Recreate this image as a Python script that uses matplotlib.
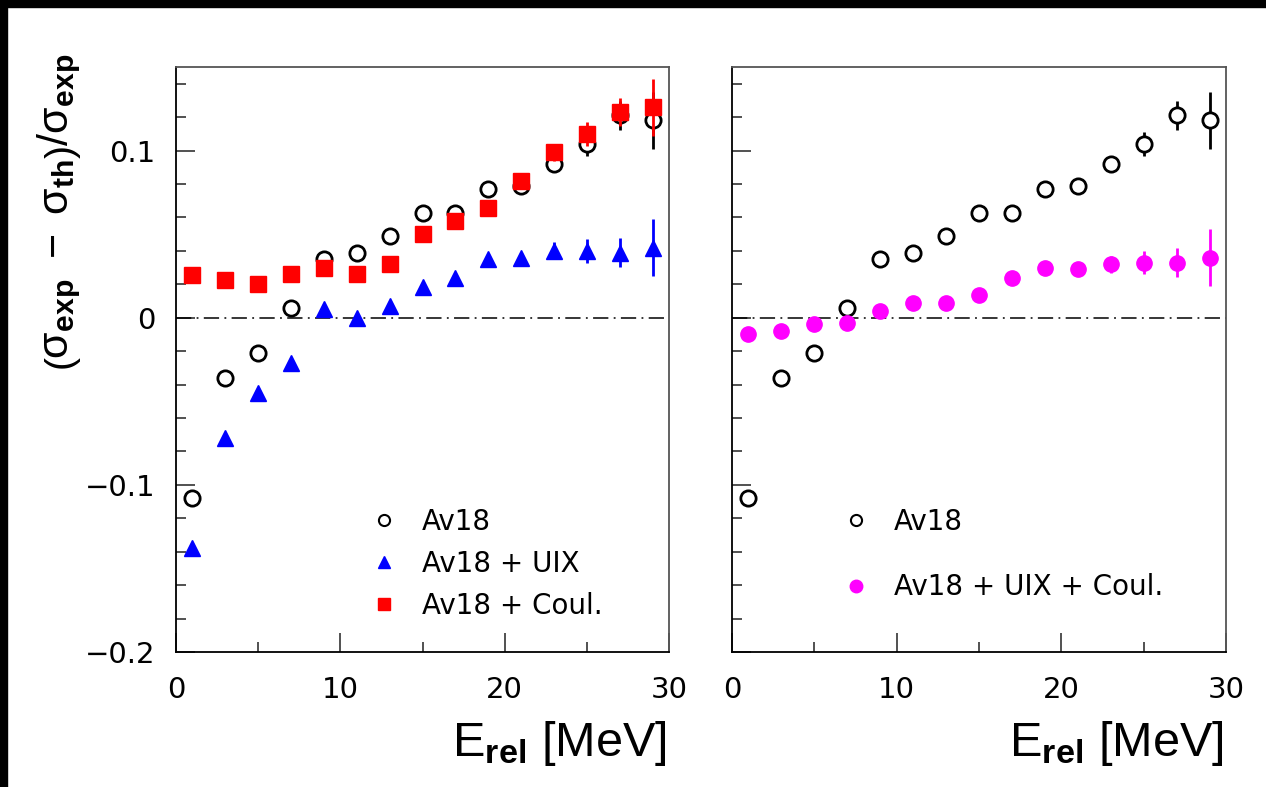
import matplotlib
matplotlib.use('Agg')
import matplotlib.pyplot as plt
from matplotlib.lines import Line2D
from matplotlib.patches import Rectangle
from matplotlib.ticker import MultipleLocator

plt.rcParams['font.family'] = ['DejaVu Sans']
plt.rcParams['mathtext.fontset'] = 'custom'
plt.rcParams['mathtext.rm'] = 'Liberation Sans'
plt.rcParams['mathtext.bf'] = 'Liberation Sans:bold'
plt.rcParams['mathtext.it'] = 'Liberation Sans'

# relative energy bins [MeV]
e_rel = [1, 3, 5, 7, 9, 11, 13, 15, 17, 19, 21, 23, 25, 27, 29]

# (sigma_exp - sigma_th) / sigma_exp for each model
av18 = [-0.108, -0.036, -0.021, 0.006, 0.035, 0.039, 0.049, 0.0625,
        0.0625, 0.077, 0.079, 0.092, 0.104, 0.121, 0.118]
av18_uix = [-0.138, -0.072, -0.045, -0.027, 0.005, 0.0, 0.007, 0.0185,
            0.024, 0.035, 0.0355, 0.040, 0.040, 0.039, 0.042]
av18_coul = [0.0255, 0.0225, 0.020, 0.026, 0.030, 0.026, 0.032, 0.050,
             0.058, 0.0655, 0.082, 0.099, 0.110, 0.123, 0.126]
av18_uix_coul = [-0.010, -0.008, -0.0035, -0.003, 0.004, 0.009, 0.009,
                 0.0135, 0.024, 0.030, 0.029, 0.032, 0.033, 0.033, 0.036]

# experimental uncertainty
err = [0.002, 0.002, 0.002, 0.002, 0.002, 0.002, 0.002, 0.003, 0.003,
       0.003, 0.004, 0.005, 0.007, 0.0085, 0.017]

fig = plt.figure(figsize=(12.66, 7.87), dpi=100)
W, H = 1266.0, 787.0
ax1 = fig.add_axes([176 / W, 1 - 652 / H, 493 / W, 585 / H])
ax2 = fig.add_axes([732 / W, 1 - 652 / H, 494 / W, 585 / H])

# black frame strips on top and left edge
fig.add_artist(Rectangle((0, 1 - 7 / H), 1, 7 / H, transform=fig.transFigure,
                         color='black', zorder=10))
fig.add_artist(Rectangle((0, 0), 7 / W, 1, transform=fig.transFigure,
                         color='black', zorder=10))

ms = 11


def open_circles(ax):
    ax.errorbar(e_rel, av18, yerr=err, fmt='o', color='black', ms=ms,
                mfc='white', mec='black', mew=2, elinewidth=2, capsize=0,
                zorder=3)


open_circles(ax1)
ax1.errorbar(e_rel, av18_uix, yerr=err, fmt='^', color='blue', ms=ms + 1,
             elinewidth=2, capsize=0, zorder=4)
ax1.errorbar(e_rel, av18_coul, yerr=err, fmt='s', color='red', ms=ms,
             elinewidth=2, capsize=0, zorder=5)

open_circles(ax2)
ax2.errorbar(e_rel, av18_uix_coul, yerr=err, fmt='o', color='magenta',
             ms=ms, elinewidth=2, capsize=0, zorder=4)

for ax in (ax1, ax2):
    ax.set_xlim(0, 30)
    ax.set_ylim(-0.2, 0.15)
    ax.axhline(0, color='black', lw=1.1, ls=(0, (10, 3.5, 1.2, 3.5)), zorder=2)
    ax.xaxis.set_major_locator(MultipleLocator(10))
    ax.xaxis.set_minor_locator(MultipleLocator(5))
    ax.yaxis.set_major_locator(MultipleLocator(0.1))
    ax.yaxis.set_minor_locator(MultipleLocator(0.02))
    ax.tick_params(which='both', direction='in', top=False, right=False,
                   width=1.2, colors='#333333', labelcolor='black')
    ax.tick_params(which='major', length=13.5, labelsize=21)
    ax.tick_params(axis='x', which='major', pad=17)
    ax.tick_params(axis='y', which='major', pad=15)
    ax.tick_params(which='minor', length=7)
    for sp in ax.spines.values():
        sp.set_linewidth(1.3)
        sp.set_color('#555555')
    ax.spines['left'].set_color('black')
    ax.spines['bottom'].set_color('black')
    ax.set_xticks([0, 10, 20, 30])
    ax.set_xticklabels(['0', '10', '20', '30'])
    ax.text(0.995, -0.115, r'E$_{\mathbf{rel}}$ [MeV]', transform=ax.transAxes,
            ha='right', va='top', fontsize=35, family='Liberation Sans')

ax1.set_yticks([-0.2, -0.1, 0, 0.1])
ax1.set_yticklabels(['\u22120.2', '\u22120.1', '0', '0.1'])
ax2.tick_params(axis='y', which='both', labelleft=False)

fig.text(60 / W, 1 - 212 / H,
         r'$\left(\mathrm{σ}_{\mathbf{exp}}\ -\ \mathrm{σ}_{\mathbf{th}}\right)/\mathrm{σ}_{\mathbf{exp}}$',
         rotation=90, ha='center', va='center', fontsize=31)

# legends
h1 = [Line2D([], [], ls='none', marker='o', ms=8, mfc='white', mec='black', mew=1.5),
      Line2D([], [], ls='none', marker='^', ms=9, color='blue'),
      Line2D([], [], ls='none', marker='s', ms=8, color='red')]
ax1.legend(h1, ['Av18', 'Av18 + UIX', 'Av18 + Coul.'], loc='upper left',
           bbox_to_anchor=(0.36, 0.27), frameon=False, fontsize=20,
           handlelength=1.2, handletextpad=0.75, labelspacing=0.5,
           borderpad=0)

h2 = [Line2D([], [], ls='none', marker='o', ms=8, mfc='white', mec='black', mew=1.5),
      Line2D([], [], ls='none', marker='o', ms=9, color='magenta')]
ax2.legend(h2, ['Av18', 'Av18 + UIX + Coul.'], loc='upper left',
           bbox_to_anchor=(0.19, 0.27), frameon=False, fontsize=20,
           handlelength=1.2, handletextpad=0.75, labelspacing=1.35,
           borderpad=0)

fig.savefig('out.png', dpi=100)
